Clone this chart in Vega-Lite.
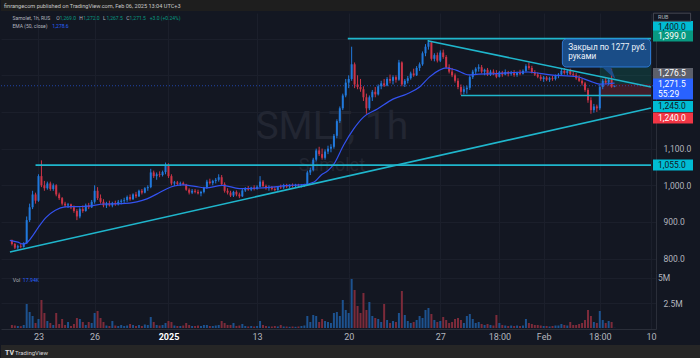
{
"$schema": "https://vega.github.io/schema/vega-lite/v6.json",
"background": "#131722",
"padding": 0,
"spacing": 0,
"config": {"view": {"stroke": null}, "font": "Roboto", "axis": {"labelFont": "Roboto", "gridColor": "#1b1f2b", "domainColor": "#2a2e39"}},
"datasets": {
"candles": [
{"t":2,"o":850,"h":852,"l":836,"c":840,"v":300},{"t":3,"o":840,"h":843,"l":826,"c":830,"v":250},{"t":4,"o":830,"h":838,"l":825,"c":834,"v":200},{"t":5,"o":834,"h":840,"l":828,"c":832,"v":180},{"t":6,"o":832,"h":845,"l":830,"c":842,"v":300},
{"t":7,"o":842,"h":915,"l":840,"c":905,"v":2400},{"t":8,"o":905,"h":950,"l":900,"c":940,"v":1600},{"t":9,"o":940,"h":985,"l":935,"c":975,"v":1200},{"t":10,"o":975,"h":980,"l":950,"c":958,"v":500},{"t":11,"o":958,"h":1030,"l":955,"c":1025,"v":900},
{"t":12,"o":1025,"h":1068,"l":995,"c":1000,"v":2800},{"t":13,"o":1000,"h":1012,"l":985,"c":992,"v":1500},{"t":14,"o":992,"h":1010,"l":988,"c":1005,"v":700},{"t":15,"o":1005,"h":1010,"l":985,"c":990,"v":500},{"t":16,"o":990,"h":1005,"l":985,"c":1000,"v":300},
{"t":17,"o":1000,"h":1003,"l":970,"c":975,"v":1500},{"t":18,"o":975,"h":980,"l":960,"c":965,"v":400},{"t":19,"o":965,"h":968,"l":945,"c":950,"v":900},{"t":20,"o":950,"h":955,"l":940,"c":945,"v":300},{"t":21,"o":945,"h":952,"l":938,"c":948,"v":600},
{"t":22,"o":948,"h":950,"l":935,"c":940,"v":200},{"t":23,"o":940,"h":945,"l":925,"c":930,"v":400},{"t":24,"o":930,"h":935,"l":905,"c":915,"v":1000},{"t":25,"o":915,"h":940,"l":910,"c":935,"v":900},{"t":26,"o":935,"h":945,"l":925,"c":930,"v":600},
{"t":27,"o":930,"h":950,"l":928,"c":945,"v":300},{"t":28,"o":945,"h":952,"l":935,"c":940,"v":600},{"t":29,"o":940,"h":960,"l":938,"c":955,"v":500},{"t":30,"o":955,"h":1000,"l":950,"c":985,"v":1500},{"t":31,"o":985,"h":995,"l":960,"c":965,"v":1700},
{"t":32,"o":965,"h":975,"l":950,"c":955,"v":1000},{"t":33,"o":955,"h":962,"l":940,"c":945,"v":600},{"t":34,"o":945,"h":955,"l":938,"c":950,"v":250},{"t":35,"o":950,"h":958,"l":942,"c":945,"v":200},{"t":36,"o":945,"h":955,"l":940,"c":952,"v":700},
{"t":37,"o":952,"h":958,"l":944,"c":948,"v":250},{"t":38,"o":948,"h":960,"l":945,"c":955,"v":200},{"t":39,"o":955,"h":962,"l":948,"c":958,"v":300},{"t":40,"o":958,"h":966,"l":952,"c":960,"v":200},{"t":41,"o":960,"h":972,"l":955,"c":968,"v":250},
{"t":42,"o":968,"h":975,"l":958,"c":962,"v":400},{"t":43,"o":962,"h":978,"l":960,"c":975,"v":300},{"t":44,"o":975,"h":982,"l":965,"c":970,"v":200},{"t":45,"o":970,"h":988,"l":968,"c":985,"v":300},{"t":46,"o":985,"h":990,"l":975,"c":980,"v":200},
{"t":47,"o":980,"h":995,"l":978,"c":992,"v":350},{"t":48,"o":992,"h":1000,"l":985,"c":995,"v":300},{"t":49,"o":995,"h":1045,"l":992,"c":1035,"v":1100},{"t":50,"o":1035,"h":1040,"l":1020,"c":1025,"v":600},{"t":51,"o":1025,"h":1035,"l":1015,"c":1030,"v":300},
{"t":52,"o":1030,"h":1038,"l":1022,"c":1028,"v":250},{"t":53,"o":1028,"h":1040,"l":1024,"c":1036,"v":300},{"t":54,"o":1036,"h":1062,"l":1030,"c":1055,"v":500},{"t":55,"o":1055,"h":1060,"l":1020,"c":1025,"v":700},{"t":56,"o":1025,"h":1030,"l":1000,"c":1005,"v":600},
{"t":57,"o":1005,"h":1012,"l":998,"c":1008,"v":250},{"t":58,"o":1008,"h":1012,"l":1000,"c":1004,"v":200},{"t":59,"o":1004,"h":1010,"l":998,"c":1006,"v":200},{"t":60,"o":1006,"h":1010,"l":1000,"c":1002,"v":250},{"t":61,"o":1002,"h":1004,"l":985,"c":988,"v":500},
{"t":62,"o":988,"h":992,"l":975,"c":980,"v":300},{"t":63,"o":980,"h":990,"l":976,"c":985,"v":200},{"t":64,"o":985,"h":990,"l":978,"c":982,"v":200},{"t":65,"o":982,"h":988,"l":975,"c":978,"v":250},{"t":66,"o":978,"h":985,"l":970,"c":982,"v":200},
{"t":67,"o":982,"h":996,"l":978,"c":994,"v":300},{"t":68,"o":994,"h":1015,"l":990,"c":1010,"v":300},{"t":69,"o":1010,"h":1018,"l":1002,"c":1006,"v":200},{"t":70,"o":1006,"h":1015,"l":1000,"c":1012,"v":200},{"t":71,"o":1012,"h":1020,"l":1005,"c":1015,"v":250},
{"t":72,"o":1015,"h":1030,"l":1010,"c":1022,"v":300},{"t":73,"o":1022,"h":1028,"l":1000,"c":1003,"v":700},{"t":74,"o":1003,"h":1008,"l":980,"c":985,"v":500},{"t":75,"o":985,"h":992,"l":975,"c":980,"v":300},{"t":76,"o":980,"h":985,"l":968,"c":972,"v":300},
{"t":77,"o":972,"h":985,"l":968,"c":982,"v":500},{"t":78,"o":982,"h":986,"l":970,"c":975,"v":200},{"t":79,"o":975,"h":980,"l":965,"c":970,"v":250},{"t":80,"o":970,"h":990,"l":968,"c":986,"v":400},{"t":81,"o":986,"h":995,"l":982,"c":990,"v":200},
{"t":82,"o":990,"h":998,"l":985,"c":988,"v":150},{"t":83,"o":988,"h":996,"l":984,"c":994,"v":200},{"t":84,"o":994,"h":1000,"l":986,"c":990,"v":150},{"t":85,"o":990,"h":1000,"l":988,"c":996,"v":200},{"t":86,"o":996,"h":1025,"l":994,"c":1010,"v":700},
{"t":87,"o":1010,"h":1014,"l":995,"c":998,"v":300},{"t":88,"o":998,"h":1002,"l":988,"c":992,"v":200},{"t":89,"o":992,"h":1000,"l":985,"c":995,"v":150},{"t":90,"o":995,"h":998,"l":986,"c":990,"v":150},{"t":91,"o":990,"h":996,"l":984,"c":987,"v":200},
{"t":92,"o":987,"h":998,"l":985,"c":996,"v":150},{"t":93,"o":996,"h":1002,"l":990,"c":994,"v":300},{"t":94,"o":994,"h":1004,"l":990,"c":1000,"v":150},{"t":95,"o":1000,"h":1004,"l":992,"c":996,"v":150},{"t":96,"o":996,"h":1003,"l":992,"c":1000,"v":120},
{"t":97,"o":1000,"h":1005,"l":994,"c":998,"v":150},{"t":98,"o":998,"h":1004,"l":993,"c":1001,"v":120},{"t":99,"o":1001,"h":1004,"l":995,"c":999,"v":150},{"t":100,"o":999,"h":1003,"l":994,"c":1000,"v":200},{"t":101,"o":1000,"h":1004,"l":996,"c":1002,"v":250},
{"t":102,"o":1002,"h":1040,"l":1000,"c":1035,"v":1200},{"t":103,"o":1035,"h":1048,"l":1028,"c":1042,"v":600},{"t":104,"o":1042,"h":1075,"l":1038,"c":1070,"v":1300},{"t":105,"o":1070,"h":1100,"l":1065,"c":1095,"v":1200},{"t":106,"o":1095,"h":1105,"l":1080,"c":1085,"v":600},
{"t":107,"o":1085,"h":1100,"l":1070,"c":1075,"v":900},{"t":108,"o":1075,"h":1098,"l":1070,"c":1092,"v":700},{"t":109,"o":1092,"h":1108,"l":1085,"c":1100,"v":600},{"t":110,"o":1100,"h":1112,"l":1090,"c":1105,"v":500},{"t":111,"o":1105,"h":1140,"l":1100,"c":1135,"v":1500},
{"t":112,"o":1135,"h":1180,"l":1128,"c":1175,"v":1600},{"t":113,"o":1175,"h":1215,"l":1170,"c":1210,"v":1200},{"t":114,"o":1210,"h":1250,"l":1205,"c":1245,"v":2800},{"t":115,"o":1245,"h":1290,"l":1240,"c":1280,"v":1800},{"t":116,"o":1280,"h":1300,"l":1265,"c":1290,"v":1500},
{"t":117,"o":1290,"h":1378,"l":1285,"c":1330,"v":4900},{"t":118,"o":1330,"h":1335,"l":1265,"c":1275,"v":3800},{"t":119,"o":1275,"h":1300,"l":1262,"c":1268,"v":2200},{"t":120,"o":1268,"h":1290,"l":1255,"c":1262,"v":1500},{"t":121,"o":1262,"h":1270,"l":1230,"c":1240,"v":3500},
{"t":122,"o":1240,"h":1250,"l":1195,"c":1210,"v":1800},{"t":123,"o":1210,"h":1245,"l":1205,"c":1240,"v":2600},{"t":124,"o":1240,"h":1260,"l":1230,"c":1255,"v":1200},{"t":125,"o":1255,"h":1268,"l":1240,"c":1248,"v":1000},{"t":126,"o":1248,"h":1275,"l":1245,"c":1270,"v":900},
{"t":127,"o":1270,"h":1285,"l":1262,"c":1278,"v":600},{"t":128,"o":1278,"h":1290,"l":1268,"c":1272,"v":2400},{"t":129,"o":1272,"h":1295,"l":1270,"c":1290,"v":800},{"t":130,"o":1290,"h":1302,"l":1278,"c":1285,"v":500},{"t":131,"o":1285,"h":1300,"l":1275,"c":1295,"v":700},
{"t":132,"o":1295,"h":1300,"l":1280,"c":1288,"v":600},{"t":133,"o":1288,"h":1342,"l":1285,"c":1335,"v":1500},{"t":134,"o":1335,"h":1338,"l":1270,"c":1275,"v":3700},{"t":135,"o":1275,"h":1290,"l":1268,"c":1285,"v":1300},{"t":136,"o":1285,"h":1298,"l":1278,"c":1292,"v":700},
{"t":137,"o":1292,"h":1310,"l":1288,"c":1305,"v":500},{"t":138,"o":1305,"h":1318,"l":1296,"c":1300,"v":600},{"t":139,"o":1300,"h":1325,"l":1298,"c":1320,"v":800},{"t":140,"o":1320,"h":1335,"l":1312,"c":1330,"v":1200},{"t":141,"o":1330,"h":1365,"l":1326,"c":1360,"v":1000},
{"t":142,"o":1360,"h":1385,"l":1352,"c":1378,"v":1800},{"t":143,"o":1378,"h":1396,"l":1370,"c":1390,"v":2000},{"t":144,"o":1390,"h":1392,"l":1340,"c":1345,"v":1400},{"t":145,"o":1345,"h":1360,"l":1338,"c":1355,"v":800},{"t":146,"o":1355,"h":1362,"l":1335,"c":1340,"v":600},
{"t":147,"o":1340,"h":1368,"l":1336,"c":1362,"v":700},{"t":148,"o":1362,"h":1370,"l":1345,"c":1350,"v":1100},{"t":149,"o":1350,"h":1355,"l":1318,"c":1322,"v":800},{"t":150,"o":1322,"h":1330,"l":1305,"c":1310,"v":500},{"t":151,"o":1310,"h":1320,"l":1295,"c":1300,"v":600},
{"t":152,"o":1300,"h":1305,"l":1280,"c":1285,"v":900},{"t":153,"o":1285,"h":1292,"l":1262,"c":1268,"v":1000},{"t":154,"o":1268,"h":1275,"l":1246,"c":1255,"v":800},{"t":155,"o":1255,"h":1270,"l":1248,"c":1262,"v":500},{"t":156,"o":1262,"h":1272,"l":1250,"c":1266,"v":1200},
{"t":157,"o":1266,"h":1300,"l":1260,"c":1295,"v":1400},{"t":158,"o":1295,"h":1315,"l":1290,"c":1310,"v":900},{"t":159,"o":1310,"h":1322,"l":1302,"c":1318,"v":500},{"t":160,"o":1318,"h":1330,"l":1310,"c":1322,"v":600},{"t":161,"o":1322,"h":1328,"l":1305,"c":1310,"v":400},
{"t":162,"o":1310,"h":1318,"l":1300,"c":1315,"v":300},{"t":163,"o":1315,"h":1320,"l":1298,"c":1302,"v":400},{"t":164,"o":1302,"h":1315,"l":1298,"c":1310,"v":300},{"t":165,"o":1310,"h":1316,"l":1300,"c":1305,"v":250},{"t":166,"o":1305,"h":1314,"l":1292,"c":1296,"v":1300},
{"t":167,"o":1296,"h":1312,"l":1294,"c":1308,"v":500},{"t":168,"o":1308,"h":1312,"l":1296,"c":1302,"v":300},{"t":169,"o":1302,"h":1316,"l":1300,"c":1309,"v":250},{"t":170,"o":1309,"h":1312,"l":1297,"c":1304,"v":200},{"t":171,"o":1304,"h":1312,"l":1299,"c":1306,"v":250},
{"t":172,"o":1306,"h":1314,"l":1296,"c":1301,"v":200},{"t":173,"o":1301,"h":1310,"l":1296,"c":1307,"v":250},{"t":174,"o":1307,"h":1315,"l":1300,"c":1304,"v":200},{"t":175,"o":1304,"h":1316,"l":1302,"c":1312,"v":250},{"t":176,"o":1312,"h":1330,"l":1308,"c":1325,"v":900},
{"t":177,"o":1325,"h":1335,"l":1315,"c":1320,"v":500},{"t":178,"o":1320,"h":1326,"l":1305,"c":1308,"v":400},{"t":179,"o":1308,"h":1314,"l":1298,"c":1302,"v":300},{"t":180,"o":1302,"h":1308,"l":1292,"c":1296,"v":300},{"t":181,"o":1296,"h":1302,"l":1285,"c":1290,"v":250},
{"t":182,"o":1290,"h":1298,"l":1282,"c":1294,"v":200},{"t":183,"o":1294,"h":1298,"l":1284,"c":1288,"v":200},{"t":184,"o":1288,"h":1296,"l":1282,"c":1292,"v":150},{"t":185,"o":1292,"h":1298,"l":1285,"c":1290,"v":200},{"t":186,"o":1290,"h":1302,"l":1286,"c":1298,"v":250},
{"t":187,"o":1298,"h":1306,"l":1292,"c":1302,"v":250},{"t":188,"o":1302,"h":1318,"l":1298,"c":1312,"v":400},{"t":189,"o":1312,"h":1320,"l":1302,"c":1306,"v":300},{"t":190,"o":1306,"h":1316,"l":1300,"c":1312,"v":250},{"t":191,"o":1312,"h":1318,"l":1300,"c":1303,"v":600},
{"t":192,"o":1303,"h":1310,"l":1296,"c":1300,"v":300},{"t":193,"o":1300,"h":1306,"l":1288,"c":1292,"v":300},{"t":194,"o":1292,"h":1300,"l":1282,"c":1285,"v":400},{"t":195,"o":1285,"h":1292,"l":1272,"c":1278,"v":500},{"t":196,"o":1278,"h":1282,"l":1255,"c":1260,"v":800},
{"t":197,"o":1260,"h":1265,"l":1225,"c":1232,"v":1800},{"t":198,"o":1232,"h":1240,"l":1195,"c":1205,"v":1200},{"t":199,"o":1205,"h":1222,"l":1198,"c":1215,"v":600},{"t":200,"o":1215,"h":1220,"l":1200,"c":1210,"v":500},{"t":201,"o":1210,"h":1275,"l":1205,"c":1268,"v":1700},
{"t":202,"o":1268,"h":1290,"l":1262,"c":1285,"v":800},{"t":203,"o":1285,"h":1295,"l":1275,"c":1280,"v":500},{"t":204,"o":1280,"h":1292,"l":1272,"c":1288,"v":700},{"t":205,"o":1288,"h":1318,"l":1266,"c":1269,"v":600},{"t":206,"o":1269,"h":1272,"l":1267.5,"c":1271.5,"v":18}
],
"ema": [
{"t":1.3,"p":850},{"t":4,"p":845},{"t":5.7,"p":840},{"t":7,"p":843},{"t":9,"p":862},{"t":11,"p":886},{"t":13.5,"p":912},{"t":16.7,"p":932},{"t":20,"p":941},{"t":24.3,"p":942},{"t":27.7,"p":943},{"t":33.3,"p":949},{"t":39,"p":950},{"t":44.3,"p":955},{"t":47.7,"p":963},{"t":51,"p":976},{"t":54.3,"p":990},{"t":57,"p":998},{"t":60,"p":1001},{"t":64,"p":997},{"t":67.7,"p":993},{"t":73.3,"p":1000},{"t":79,"p":991},{"t":84.3,"p":992},{"t":90,"p":995},{"t":95.7,"p":1000},{"t":100,"p":1001},{"t":104.3,"p":1009},{"t":106.7,"p":1028},{"t":109,"p":1040},{"t":111,"p":1058},{"t":114.3,"p":1110},{"t":117.7,"p":1154},{"t":121,"p":1186},{"t":125.7,"p":1208},{"t":131,"p":1235},{"t":135.7,"p":1249},{"t":140,"p":1268},{"t":143.3,"p":1295},{"t":146.7,"p":1314},{"t":149,"p":1320},{"t":152.3,"p":1314},{"t":156.7,"p":1301},{"t":160,"p":1303},{"t":165,"p":1304},{"t":176.7,"p":1309},{"t":184.3,"p":1301},{"t":193.3,"p":1296},{"t":197.7,"p":1284},{"t":201,"p":1276},{"t":204,"p":1277},{"t":206,"p":1278.6}
],
"lines": [
{"id":"up","t":1.33,"p":818},{"id":"up","t":218.333,"p":1211},
{"id":"h1055","t":10,"p":1055},{"id":"h1055","t":218.333,"p":1055},
{"id":"h1400","t":115.7,"p":1400},{"id":"h1400","t":218.333,"p":1400},
{"id":"h1245","t":154,"p":1245},{"id":"h1245","t":218.333,"p":1245},
{"id":"down","t":142.7,"p":1394},{"id":"down","t":218.333,"p":1268}
],
"zones": [
{"t1":201,"t2":218.333,"p1":1276.5,"p2":1399,"k":"tp"},
{"t1":201,"t2":218.333,"p1":1240,"p2":1276.5,"k":"sl"}
],
"labels": [
{"lp":1433,"txt":"1,400.0","k":"line"},
{"lp":1407.2,"txt":"1,399.0","k":"tp"},
{"lp":1304.9,"txt":"1,276.5","k":"entry"},
{"lp":1276.3,"txt":"1,271.5","k":"last"},
{"lp":1249.0,"txt":"55:29","k":"last"},
{"lp":1214.9,"txt":"1,245.0","k":"line"},
{"lp":1183.5,"txt":"1,240.0","k":"sl"},
{"lp":1055.4,"txt":"1,055.0","k":"line"}
],
"hdr": [
{"t":2.2,"p":1454.9,"txt":"Samolet, 1h, RUS","k":"name"},
{"t":17,"p":1454.9,"txt":"O","k":"name"},{"t":18.17,"p":1454.9,"txt":"1,269.0","k":"val"},
{"t":24.83,"p":1454.9,"txt":"H","k":"name"},{"t":26.17,"p":1454.9,"txt":"1,272.0","k":"val"},
{"t":32.83,"p":1454.9,"txt":"L","k":"name"},{"t":34,"p":1454.9,"txt":"1,267.5","k":"val"},
{"t":40.67,"p":1454.9,"txt":"C","k":"name"},{"t":41.83,"p":1454.9,"txt":"1,271.5","k":"val"},
{"t":48.67,"p":1454.9,"txt":"+3.0 (+0.24%)","k":"val"},
{"t":2.2,"p":1433.1,"txt":"EMA (50, close)","k":"name"},{"t":15.67,"p":1433.1,"txt":"1,278.6","k":"ema"}
]
},
"vconcat": [
{
"width": 700, "height": 11,
"view": {"fill": "#1e1e1e", "stroke": null},
"data": {"values": [{"txt": "finrangecom published on TradingView.com, Feb 06, 2025 13:04 UTC+3"}]},
"mark": {"type": "text", "align": "left", "dx": 3, "fontSize": 5.6, "color": "#c8c8c8"},
"encoding": {"x": {"datum": 0, "type": "quantitative", "scale": {"domain": [0, 1]}, "axis": null}, "text": {"field": "txt"}}
},
{
"width": 655, "height": 260,
"layer": [
{
"data": {"name": "zones"},
"mark": {"type": "rect", "opacity": 0.2},
"encoding": {
"x": {"field": "t1", "type": "quantitative", "scale": {"domain": [0, 218.333], "nice": false, "zero": false},
 "axis": {"values": [11, 30, 55, 85, 116, 147, 167, 182, 201, 218.333], "labels": false, "ticks": false, "domain": false, "grid": true, "title": null, "minExtent": 0, "maxExtent": 0}},
"x2": {"field": "t2"},
"y": {"field": "p1", "type": "quantitative", "scale": {"domain": [760.8, 1469.9], "nice": false, "zero": false},
 "axis": {"orient": "right", "values": [800, 900, 1000, 1100, 1200, 1300, 1400], "labelExpr": "datum.value > 1150 ? '' : format(datum.value, ',.1f')", "labelAlign": "left", "labelBaseline": "middle", "labelPadding": 7, "labelFontSize": 8.5, "labelColor": "#b2b5be", "labelOverlap": false, "ticks": false, "domain": true, "grid": true, "title": null, "minExtent": 45, "maxExtent": 45}},
"y2": {"field": "p2"},
"color": {"condition": {"test": "datum.k == 'tp'", "value": "#089981"}, "value": "#f23645"}
}
},
{
"data": {"values": [{"t": 110.3, "p": 1160, "txt": "SMLT, 1h", "k": "big"}, {"t": 110.3, "p": 1052, "txt": "Samolet", "k": "small"}]},
"mark": {"type": "text", "color": "#222632", "baseline": "middle"},
"encoding": {
"x": {"field": "t", "type": "quantitative", "scale": {"domain": [0, 218.333], "nice": false, "zero": false}},
"y": {"field": "p", "type": "quantitative", "scale": {"domain": [760.8, 1469.9], "nice": false, "zero": false}},
"text": {"field": "txt"},
"size": {"condition": {"test": "datum.k == 'big'", "value": 39}, "value": 18}
}
},
{
"data": {"values": [{"p": 1271.5}]},
"mark": {"type": "rule", "color": "#2962ff", "strokeDash": [1, 2], "opacity": 0.6},
"encoding": {"y": {"field": "p", "type": "quantitative", "scale": {"domain": [760.8, 1469.9], "nice": false, "zero": false}}}
},
{
"data": {"name": "candles"},
"mark": {"type": "rule", "strokeWidth": 1},
"encoding": {
"x": {"field": "t", "type": "quantitative", "scale": {"domain": [0, 218.333], "nice": false, "zero": false}},
"y": {"field": "l", "type": "quantitative", "scale": {"domain": [760.8, 1469.9], "nice": false, "zero": false}},
"y2": {"field": "h"},
"color": {"condition": {"test": "datum.c >= datum.o", "value": "#2179dc"}, "value": "#cc3447"}
}
},
{
"data": {"name": "candles"},
"mark": {"type": "bar", "size": 2},
"encoding": {
"x": {"field": "t", "type": "quantitative", "scale": {"domain": [0, 218.333], "nice": false, "zero": false}},
"y": {"field": "o", "type": "quantitative", "scale": {"domain": [760.8, 1469.9], "nice": false, "zero": false}},
"y2": {"field": "c"},
"color": {"condition": {"test": "datum.c >= datum.o", "value": "#2179dc"}, "value": "#cc3447"}
}
},
{
"data": {"name": "ema"},
"mark": {"type": "line", "color": "#3352f0", "strokeWidth": 1.2, "interpolate": "monotone"},
"encoding": {
"x": {"field": "t", "type": "quantitative", "scale": {"domain": [0, 218.333], "nice": false, "zero": false}},
"y": {"field": "p", "type": "quantitative", "scale": {"domain": [760.8, 1469.9], "nice": false, "zero": false}}
}
},
{
"data": {"name": "lines"},
"mark": {"type": "line", "color": "#1fb6cc", "strokeWidth": 1.6},
"encoding": {
"x": {"field": "t", "type": "quantitative", "scale": {"domain": [0, 218.333], "nice": false, "zero": false}},
"y": {"field": "p", "type": "quantitative", "scale": {"domain": [760.8, 1469.9], "nice": false, "zero": false}},
"detail": {"field": "id"}
}
},
{
"data": {"values": [{"t1": 188.33, "t2": 218.2, "p1": 1399, "p2": 1322.6}]},
"mark": {"type": "rect", "fill": "#1b4f8c", "stroke": "#2f7fe0", "strokeWidth": 1, "cornerRadius": 4, "opacity": 0.95},
"encoding": {
"x": {"field": "t1", "type": "quantitative", "scale": {"domain": [0, 218.333], "nice": false, "zero": false}},
"x2": {"field": "t2"},
"y": {"field": "p1", "type": "quantitative", "scale": {"domain": [760.8, 1469.9], "nice": false, "zero": false}},
"y2": {"field": "p2"}
}
},
{
"data": {"values": [{"t": 201.67, "a": 1323.5, "b": 1323.5}, {"t": 204.67, "a": 1323.5, "b": 1301.0}, {"t": 206.33, "a": 1289.9, "b": 1289.9}]},
"mark": {"type": "area", "orient": "vertical", "color": "#1b4f8c", "opacity": 0.95},
"encoding": {
"x": {"field": "t", "type": "quantitative", "scale": {"domain": [0, 218.333], "nice": false, "zero": false}},
"y": {"field": "a", "type": "quantitative", "scale": {"domain": [760.8, 1469.9], "nice": false, "zero": false}},
"y2": {"field": "b"}
}
},
{
"data": {"values": [{"t": 190.3, "p": 1375.8, "txt": "Закрыл по 1277 руб."}, {"t": 190.3, "p": 1350.5, "txt": "руками"}]},
"mark": {"type": "text", "align": "left", "baseline": "middle", "fontSize": 8.2, "color": "#eef3fb"},
"encoding": {
"x": {"field": "t", "type": "quantitative", "scale": {"domain": [0, 218.333], "nice": false, "zero": false}},
"y": {"field": "p", "type": "quantitative", "scale": {"domain": [760.8, 1469.9], "nice": false, "zero": false}},
"text": {"field": "txt"}
}
},
{
"data": {"name": "hdr"},
"mark": {"type": "text", "align": "left", "baseline": "middle", "fontSize": 5},
"encoding": {
"x": {"field": "t", "type": "quantitative", "scale": {"domain": [0, 218.333], "nice": false, "zero": false}},
"y": {"field": "p", "type": "quantitative", "scale": {"domain": [760.8, 1469.9], "nice": false, "zero": false}},
"text": {"field": "txt"},
"color": {"condition": [{"test": "datum.k == 'val'", "value": "#089981"}, {"test": "datum.k == 'ema'", "value": "#2962ff"}], "value": "#b2b5be"}
}
},
{
"data": {"name": "labels"},
"mark": {"type": "point", "shape": "M0.1,-0.275H2.1V0.275H0.1Z", "size": 1600, "filled": true, "opacity": 1, "strokeWidth": 0},
"encoding": {
"x": {"datum": 218.333, "type": "quantitative", "scale": {"domain": [0, 218.333], "nice": false, "zero": false}},
"y": {"field": "lp", "type": "quantitative", "scale": {"domain": [760.8, 1469.9], "nice": false, "zero": false}},
"color": {"condition": [{"test": "datum.k == 'line'", "value": "#00bcd4"}, {"test": "datum.k == 'tp'", "value": "#089981"}, {"test": "datum.k == 'entry'", "value": "#5d606b"}, {"test": "datum.k == 'last'", "value": "#2962ff"}], "value": "#f23645"}
}
},
{
"data": {"name": "labels"},
"mark": {"type": "text", "align": "left", "baseline": "middle", "dx": 7, "fontSize": 8.5},
"encoding": {
"x": {"datum": 218.333, "type": "quantitative", "scale": {"domain": [0, 218.333], "nice": false, "zero": false}},
"y": {"field": "lp", "type": "quantitative", "scale": {"domain": [760.8, 1469.9], "nice": false, "zero": false}},
"text": {"field": "txt"},
"color": {"condition": {"test": "datum.k == 'line'", "value": "#131722"}, "value": "#ffffff"}
}
},
{
"data": {"values": [{"lp": 1458.5, "txt": "RUB"}]},
"mark": {"type": "point", "shape": "M0.12,-0.2H1.98V0.2H0.12Z", "size": 1600, "filled": true, "color": "#131722", "stroke": "#50535e", "strokeWidth": 0.8, "opacity": 1},
"encoding": {
"x": {"datum": 218.333, "type": "quantitative", "scale": {"domain": [0, 218.333], "nice": false, "zero": false}},
"y": {"field": "lp", "type": "quantitative", "scale": {"domain": [760.8, 1469.9], "nice": false, "zero": false}}
}
},
{
"data": {"values": [{"lp": 1458.5, "txt": "RUB"}]},
"mark": {"type": "text", "align": "left", "baseline": "middle", "dx": 7, "fontSize": 5.5, "color": "#b2b5be"},
"encoding": {
"x": {"datum": 218.333, "type": "quantitative", "scale": {"domain": [0, 218.333], "nice": false, "zero": false}},
"y": {"field": "lp", "type": "quantitative", "scale": {"domain": [760.8, 1469.9], "nice": false, "zero": false}},
"text": {"field": "txt"}
}
}
]
},
{
"width": 655, "height": 56,
"layer": [
{
"data": {"name": "candles"},
"mark": {"type": "bar", "size": 2},
"encoding": {
"x": {"field": "t", "type": "quantitative", "scale": {"domain": [0, 218.333], "nice": false, "zero": false},
 "axis": {"orient": "bottom", "values": [11, 30, 55, 85, 116, 147, 167, 182, 201, 218.333],
  "labelExpr": "datum.value == 11 ? '23' : datum.value == 30 ? '26' : datum.value == 55 ? '2025' : datum.value == 85 ? '13' : datum.value == 116 ? '20' : datum.value == 147 ? '27' : datum.value == 167 ? '18:00' : datum.value == 182 ? 'Feb' : datum.value == 201 ? '18:00' : '10'",
  "labelFontSize": 9, "labelColor": {"condition": {"test": "datum.value == 55", "value": "#ffffff"}, "value": "#b2b5be"},
  "labelFontWeight": {"condition": {"test": "datum.value == 55", "value": "bold"}, "value": "normal"},
  "labelPadding": 3, "labelFlush": false, "labelOverlap": false, "labelBound": false, "ticks": false, "domain": true, "grid": true, "title": null, "minExtent": 16, "maxExtent": 16}},
"y": {"field": "v", "type": "quantitative", "scale": {"domain": [-100, 5500], "nice": false, "zero": false},
 "axis": {"orient": "right", "values": [2500, 5000], "labelExpr": "datum.value > 4000 ? '' : '2.5M'", "labelAlign": "left", "labelPadding": 7, "labelFontSize": 8.5, "labelColor": "#b2b5be", "labelOverlap": false, "ticks": false, "domain": true, "grid": true, "title": null, "minExtent": 45, "maxExtent": 45}},
"y2": {"datum": 0},
"color": {"condition": {"test": "datum.c >= datum.o", "value": "#1d528f"}, "value": "#7c2b3a"}
}
},
{
"data": {"values": [{"v": 5000, "txt": "5M"}]},
"mark": {"type": "text", "align": "left", "baseline": "middle", "dx": 7, "fontSize": 8.5, "color": "#b2b5be"},
"encoding": {
"x": {"datum": 218.333, "type": "quantitative", "scale": {"domain": [0, 218.333], "nice": false, "zero": false}},
"y": {"field": "v", "type": "quantitative", "scale": {"domain": [-100, 5500], "nice": false, "zero": false}},
"text": {"field": "txt"}
}
},
{
"data": {"values": [{"t": 2.3, "v": 4800, "txt": "Vol", "k": "name"}, {"t": 5.7, "v": 4800, "txt": "17.94K", "k": "ema"}]},
"mark": {"type": "text", "align": "left", "baseline": "middle", "fontSize": 5.2},
"encoding": {
"x": {"field": "t", "type": "quantitative", "scale": {"domain": [0, 218.333], "nice": false, "zero": false}},
"y": {"field": "v", "type": "quantitative", "scale": {"domain": [-100, 5500], "nice": false, "zero": false}},
"text": {"field": "txt"},
"color": {"condition": {"test": "datum.k == 'ema'", "value": "#2962ff"}, "value": "#b2b5be"}
}
}
]
},
{
"width": 700, "height": 15,
"view": {"fill": "#262626", "stroke": null},
"layer": [
{
"data": {"values": [{"txt": "TV"}]},
"mark": {"type": "text", "align": "left", "dx": 4, "fontSize": 7, "fontWeight": "bold", "color": "#e0e0e0"},
"encoding": {"x": {"datum": 0, "type": "quantitative", "scale": {"domain": [0, 1]}, "axis": null}, "text": {"field": "txt"}}
},
{
"data": {"values": [{"txt": "TradingView"}]},
"mark": {"type": "text", "align": "left", "dx": 14, "fontSize": 6, "color": "#d6d6d6"},
"encoding": {"x": {"datum": 0, "type": "quantitative", "scale": {"domain": [0, 1]}, "axis": null}, "text": {"field": "txt"}}
}
]
}
]
}
